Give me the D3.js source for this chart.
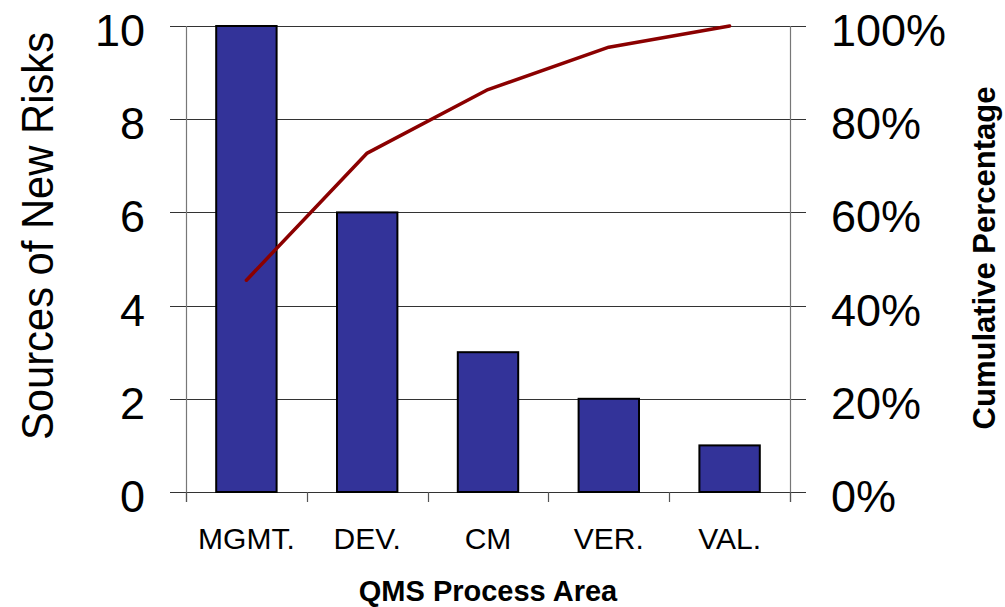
<!DOCTYPE html>
<html>
<head>
<meta charset="utf-8">
<script src="https://cdn.jsdelivr.net/npm/d3@7"></script>
<style>
  html, body { margin: 0; padding: 0; background: #fff; }
  svg { display: block; }
</style>
</head>
<body>
<svg id="chart" width="1005" height="607"></svg>
<script>
const categories = ["MGMT.", "DEV.", "CM", "VER.", "VAL."];
const counts = [10, 6, 3, 2, 1];
const cumulativePct = [0.4545, 0.7273, 0.8636, 0.9545, 1.0];
const leftTicks = [0, 2, 4, 6, 8, 10];
const rightTicks = [0, 0.2, 0.4, 0.6, 0.8, 1.0];

(function () {
const svg = d3.select("#chart");
const pLeft = 186, pRight = 790, pTop = 26, pBottom = 492;
const font = "Liberation Sans, Arial, sans-serif";

const x = d3.scaleBand().domain(categories).range([pLeft, pRight]).paddingInner(0.5).paddingOuter(0.25);
const y = d3.scaleLinear().domain([0, 10]).range([pBottom, pTop]);
const y2 = d3.scaleLinear().domain([0, 1]).range([pBottom, pTop]);

// gridlines (extend as ticks on both sides)
svg.append("g").selectAll("line").data(leftTicks).join("line")
  .attr("x1", pLeft - 16).attr("x2", pRight + 16)
  .attr("y1", d => Math.round(y(d)) + 0.5).attr("y2", d => Math.round(y(d)) + 0.5)
  .attr("stroke", "#333").attr("stroke-width", 1);

// left & right axis lines
svg.append("line").attr("x1", pLeft + 0.5).attr("x2", pLeft + 0.5).attr("y1", pTop).attr("y2", pBottom + 10)
  .attr("stroke", "#777").attr("stroke-width", 1.2);
svg.append("line").attr("x1", pRight + 0.5).attr("x2", pRight + 0.5).attr("y1", pTop).attr("y2", pBottom + 10)
  .attr("stroke", "#777").attr("stroke-width", 1.2);

// x ticks at band boundaries
const boundaries = d3.range(categories.length + 1).map(i => pLeft + (pRight - pLeft) * i / categories.length);
svg.append("g").selectAll("line").data(boundaries).join("line")
  .attr("x1", d => Math.round(d) + 0.5).attr("x2", d => Math.round(d) + 0.5)
  .attr("y1", pBottom).attr("y2", pBottom + 10)
  .attr("stroke", "#555").attr("stroke-width", 1.2);

// bars
svg.append("g").selectAll("rect").data(counts).join("rect")
  .attr("x", (d, i) => x(categories[i]))
  .attr("width", x.bandwidth())
  .attr("y", d => y(d))
  .attr("height", d => pBottom - y(d))
  .attr("fill", "#333399")
  .attr("stroke", "#000").attr("stroke-width", 2);

// cumulative line
const line = d3.line()
  .x((d, i) => x(categories[i]) + x.bandwidth() / 2)
  .y(d => y2(d));
svg.append("path").datum(cumulativePct)
  .attr("d", line)
  .attr("fill", "none").attr("stroke", "#8b0000").attr("stroke-width", 3.5)
  .attr("stroke-linecap", "round").attr("stroke-linejoin", "round");

// left tick labels
svg.append("g").selectAll("text").data(leftTicks).join("text")
  .attr("x", 145).attr("y", d => y(d) + 20)
  .attr("text-anchor", "end")
  .attr("font-family", font).attr("font-size", 45)
  .text(d => d);

// right tick labels
svg.append("g").selectAll("text").data(rightTicks).join("text")
  .attr("x", 831).attr("y", d => y2(d) + 20)
  .attr("text-anchor", "start")
  .attr("font-family", font).attr("font-size", 45)
  .text(d => d3.format(".0%")(d));

// category labels
svg.append("g").selectAll("text").data(categories).join("text")
  .attr("x", d => x(d) + x.bandwidth() / 2).attr("y", 549)
  .attr("text-anchor", "middle")
  .attr("font-family", font).attr("font-size", 30)
  .text(d => d);

// x title
svg.append("text")
  .attr("x", 488).attr("y", 601)
  .attr("text-anchor", "middle")
  .attr("font-family", font).attr("font-size", 29).attr("font-weight", "bold")
  .text("QMS Process Area");

// left title
svg.append("text")
  .attr("transform", "translate(53,236) rotate(-90)")
  .attr("text-anchor", "middle")
  .attr("font-family", font).attr("font-size", 45)
  .attr("textLength", 408).attr("lengthAdjust", "spacingAndGlyphs")
  .text("Sources of New Risks");

// right title
svg.append("text")
  .attr("transform", "translate(995,258) rotate(-90)")
  .attr("text-anchor", "middle")
  .attr("font-family", font).attr("font-size", 31).attr("font-weight", "bold")
  .text("Cumulative Percentage");
})();
</script>
</body>
</html>
